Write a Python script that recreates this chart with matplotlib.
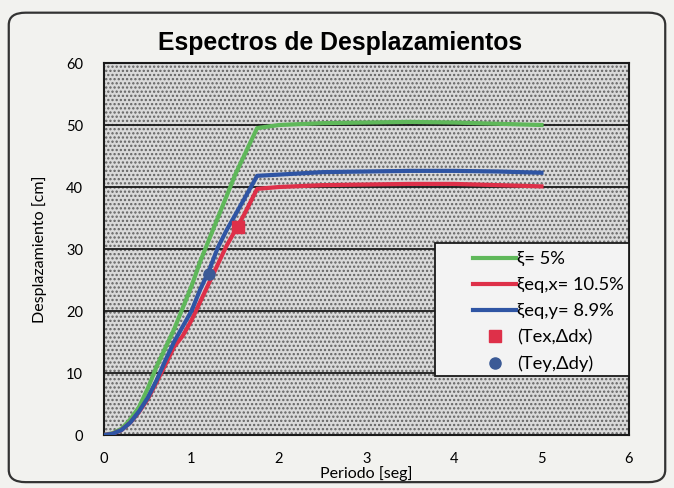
import matplotlib
matplotlib.use("Agg")
import matplotlib.pyplot as plt
from matplotlib.patches import Rectangle, FancyBboxPatch
from matplotlib.lines import Line2D


#%% Data
Periodo = [0, 0.1, 0.2, 0.3, 0.4, 0.5, 0.6, 0.7, 0.8, 0.9, 1.0, 1.1, 1.2, 1.3,
           1.4, 1.5, 1.6, 1.75, 2.0, 2.5, 3.0, 3.5, 4.0, 4.5, 5.0]

Desp_5 = [0, 0.3, 1.0, 2.5, 4.5, 7.5, 11, 14, 17, 20.5, 24, 28, 31.5, 35,
          38.5, 42, 45, 49.5, 50.0, 50.3, 50.4, 50.5, 50.4, 50.2, 50.0]

Desp_x = [0, 0.2, 0.8, 2.0, 3.7, 5.8, 8.5, 11.3, 14.2, 16, 18.5, 21.5, 24.5, 27.5,
          30.5, 33, 35.5, 39.7, 40.0, 40.3, 40.4, 40.5, 40.5, 40.3, 40.1]

Desp_y = [0, 0.2, 0.8, 2.0, 3.8, 6.0, 8.8, 12, 15, 17.5, 20, 23.5, 26.5, 30.2,
          33, 35.5, 38, 41.8, 42.0, 42.4, 42.5, 42.6, 42.6, 42.5, 42.3]

# Performance points
Tex, Ddx = 1.53, 33.5
Tey, Ddy = 1.20, 26.0

Labels = ["ξ= 5%", "ξeq,x= 10.5%", "ξeq,y= 8.9%", "(Tex,Δdx)", "(Tey,Δdy)"]

XTicks = [0, 1, 2, 3, 4, 5, 6]
YTicks = [0, 10, 20, 30, 40, 50, 60]


#%% Style
Fig_Width  = 6.74
Fig_Height = 4.88
Fig_Color  = "#f2f2ef"

Color_5 = "#5fb85a"
Color_x = "#de3049"
Color_y = "#2f55a4"
Color_Dot = "#3b5a96"
Line_Width = 3.0

FontName = ["Lato", "DejaVu Sans"]
FontSize_Tick = 10.5
FontSize_Label = 11.5
FontSize_Legend = 13.2

# Legend box (axes fraction)
LegBox = [0.630, 0.159, 0.370, 0.357]


#%% Figure
Fig = plt.figure(figsize = [Fig_Width, Fig_Height], dpi = 100)
Fig.patch.set_facecolor(Fig_Color)

# Rounded outer border
Border = FancyBboxPatch((0.013, 0.012), 0.974, 0.962,
                        boxstyle = "round,pad=0,rounding_size=0.025",
                        transform = Fig.transFigure,
                        facecolor = "none", edgecolor = "#333333",
                        linewidth = 1.6, zorder = 10)
Fig.patches.append(Border)

ax = Fig.add_axes([0.1543, 0.1086, 0.7789, 0.7623])
ax.set_facecolor("#dadada")

plt.rcParams["hatch.linewidth"] = 1.1
Background = Rectangle((0, 0), 1, 1, transform = ax.transAxes,
                       facecolor = "#dadada", edgecolor = "#626262",
                       hatch = "....", linewidth = 0, zorder = 0)
ax.add_patch(Background)

# Grid
for YVal in YTicks[1:-1]:
    ax.axhline(YVal, color = "#1a1a1a", linewidth = 1.3, zorder = 1)

# Curves
ax.plot(Periodo, Desp_5, color = Color_5, linewidth = Line_Width, zorder = 3)
ax.plot(Periodo, Desp_x, color = Color_x, linewidth = Line_Width, zorder = 3)
ax.plot(Periodo, Desp_y, color = Color_y, linewidth = Line_Width, zorder = 3)

ax.plot([Tex], [Ddx], marker = "s", markersize = 8, color = Color_x,
        linestyle = "none", zorder = 4)
ax.plot([Tey], [Ddy], marker = "o", markersize = 8, color = Color_Dot,
        linestyle = "none", zorder = 4)

ax.set_xlim(0, 6)
ax.set_ylim(0, 60)
ax.set_xticks(XTicks)
ax.set_yticks(YTicks)
ax.set_xticklabels([str(t) for t in XTicks], fontsize = FontSize_Tick,
                   fontfamily = FontName)
ax.set_yticklabels([str(t) for t in YTicks], fontsize = FontSize_Tick,
                   fontfamily = FontName)
ax.tick_params(length = 0, pad = 12)
ax.tick_params(axis = "y", pad = 15)

for Side in ["top", "bottom", "left", "right"]:
    ax.spines[Side].set_linewidth(1.5)
    ax.spines[Side].set_color("#1a1a1a")

ax.set_xlabel("Periodo [seg]", fontsize = FontSize_Label, fontfamily = FontName,
              labelpad = 0)
ax.set_ylabel("Desplazamiento [cm]", fontsize = FontSize_Label,
              fontfamily = FontName, labelpad = 14)

Fig.text(0.505, 0.912, "Espectros de Desplazamientos", ha = "center",
         va = "center", fontsize = 17.8, fontweight = "bold",
         fontfamily = "Liberation Sans")

# Legend frame
LegFrame = Rectangle((LegBox[0], LegBox[1]), LegBox[2], LegBox[3],
                     transform = ax.transAxes, facecolor = "#f3f3f3",
                     edgecolor = "#1a1a1a", linewidth = 1.3, zorder = 5,
                     clip_on = False)
ax.add_patch(LegFrame)

# Legend
Handles = [Line2D([], [], color = Color_5, linewidth = Line_Width),
           Line2D([], [], color = Color_x, linewidth = Line_Width),
           Line2D([], [], color = Color_y, linewidth = Line_Width),
           Line2D([], [], color = Color_x, marker = "s", markersize = 8,
                  linestyle = "none"),
           Line2D([], [], color = Color_Dot, marker = "o", markersize = 8,
                  linestyle = "none")]

Leg = ax.legend(Handles, Labels, loc = "upper left",
                bbox_to_anchor = (0.703, 0.494),
                borderaxespad = 0, borderpad = 0, frameon = False,
                prop = {"family": FontName, "size": FontSize_Legend},
                handlelength = 2.35, handletextpad = 0.05, labelspacing = 0.55)
Leg.set_zorder(6)

Fig.savefig("out.png", dpi = 100, facecolor = Fig_Color)
